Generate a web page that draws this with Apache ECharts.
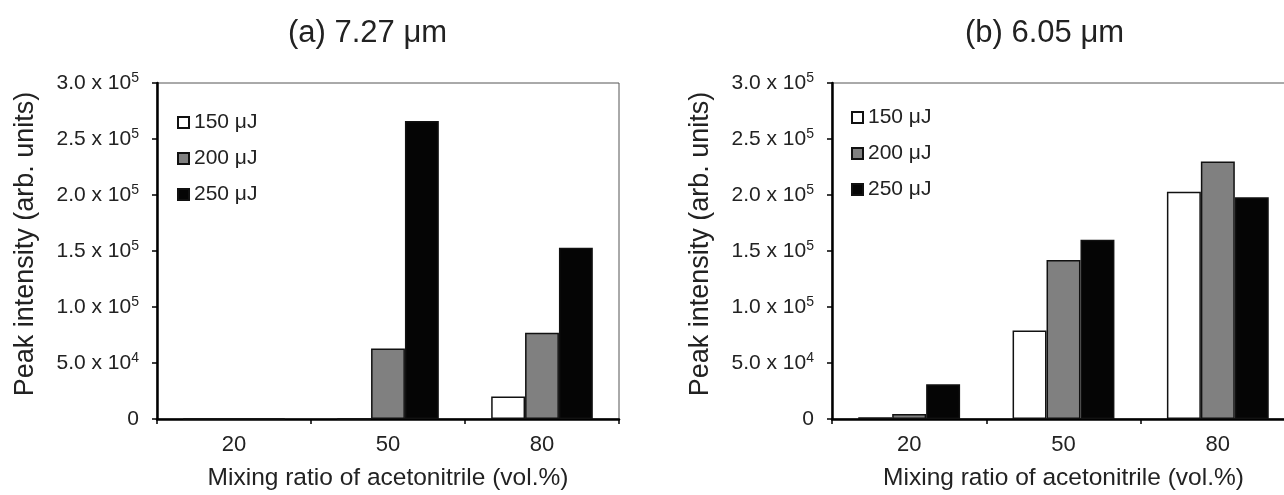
<!DOCTYPE html>
<html>
<head>
<meta charset="utf-8">
<script src="https://cdn.jsdelivr.net/npm/echarts@6/dist/echarts.min.js"></script>
<style>
  html, body { margin: 0; padding: 0; background: #fff; }
  #chart { width: 1284px; height: 495px; }
</style>
</head>
<body>
<div id="chart"></div>
<script>
// categories (mixing ratio, vol.%)
const ratios = ['20', '50', '80']
const seriesNames = ['150 μJ', '200 μJ', '250 μJ']

// (a) 7.27 um
const a150 = [0, 0, 20000]
const a200 = [0, 63000, 77000]
const a250 = [0, 266000, 153000]

// (b) 6.05 um
const b150 = [1500, 79000, 203000]
const b200 = [4500, 142000, 230000]
const b250 = [31000, 160000, 198000]

const font = 'Liberation Sans, Arial, sans-serif'
const ink = '#222'
const fills = ['#ffffff', '#808080', '#050505']

function yFmt(v) {
  if (v === 0) return '0'
  const e = Math.floor(Math.log10(v) + 1e-9)
  const m = v / Math.pow(10, e)
  return m.toFixed(1) + ' x 10{sup|' + e + '}'
}

function xAxisFor(idx) {
  return {
    type: 'category',
    gridIndex: idx,
    data: ratios,
    name: 'Mixing ratio of acetonitrile (vol.%)',
    nameLocation: 'middle',
    nameGap: 47,
    nameTextStyle: { fontFamily: font, fontSize: 24.5, color: ink },
    axisLine: { lineStyle: { color: '#000', width: 2.5 } },
    axisTick: { show: true, length: 5, lineStyle: { color: '#000', width: 1.5 } },
    axisLabel: { margin: 15, fontFamily: font, fontSize: 22, color: ink },
    splitLine: { show: false }
  }
}

function yAxisFor(idx) {
  return {
    type: 'value',
    gridIndex: idx,
    min: 0,
    max: 300000,
    interval: 50000,
    name: 'Peak intensity (arb. units)',
    nameLocation: 'middle',
    nameGap: 118,
    // padding at the start nudges the rotated name upward a little
    nameTextStyle: { fontFamily: font, fontSize: 27, color: ink, padding: [0, 0, 0, 14] },
    axisLine: { show: true, lineStyle: { color: '#000', width: 2.5 } },
    axisTick: { show: true, length: 5, lineStyle: { color: '#000', width: 1.5 } },
    axisLabel: {
      margin: 18,
      fontFamily: font,
      fontSize: 21,
      color: ink,
      formatter: yFmt,
      rich: {
        sup: { fontFamily: font, fontSize: 14, color: ink, verticalAlign: 'top', padding: [0, 0, 9, 0] }
      }
    },
    splitLine: { show: false }
  }
}

function barSeries(idx, name, data, k) {
  return {
    name: name,
    type: 'bar',
    xAxisIndex: idx,
    yAxisIndex: idx,
    data: data,
    barGap: 0,
    barCategoryGap: '34%',
    itemStyle: { color: fills[k], borderColor: '#111', borderWidth: 1.5 }
  }
}

function legendFor(left, top) {
  return {
    orient: 'vertical',
    left: left,
    top: top,
    padding: 0,
    itemWidth: 11,
    itemHeight: 11,
    itemGap: 15,
    icon: 'rect',
    selectedMode: false,
    data: seriesNames,
    textStyle: { fontFamily: font, fontSize: 21, color: ink }
  }
}

const chart = echarts.init(document.getElementById('chart'))
chart.setOption({
  animation: false,
  backgroundColor: '#fff',
  title: [
    { text: '(a) 7.27 μm', left: 288, top: 18, padding: 0, textStyle: { fontFamily: font, fontSize: 31, fontWeight: 'normal', color: ink } },
    { text: '(b) 6.05 μm', left: 965, top: 18, padding: 0, textStyle: { fontFamily: font, fontSize: 31, fontWeight: 'normal', color: ink } }
  ],
  legend: [legendFor(177, 112), legendFor(851, 107)],
  grid: [
    { left: 157, top: 83, width: 462, height: 336, outerBoundsMode: 'none', show: true, borderColor: '#555', borderWidth: 1 },
    // right panel runs past the picture edge in the original
    { left: 832, top: 83, width: 463, height: 336, outerBoundsMode: 'none', show: true, borderColor: '#555', borderWidth: 1 }
  ],
  xAxis: [xAxisFor(0), xAxisFor(1)],
  yAxis: [yAxisFor(0), yAxisFor(1)],
  series: [
    barSeries(0, seriesNames[0], a150, 0),
    barSeries(0, seriesNames[1], a200, 1),
    barSeries(0, seriesNames[2], a250, 2),
    barSeries(1, seriesNames[0], b150, 0),
    barSeries(1, seriesNames[1], b200, 1),
    barSeries(1, seriesNames[2], b250, 2)
  ]
})
</script>
</body>
</html>
